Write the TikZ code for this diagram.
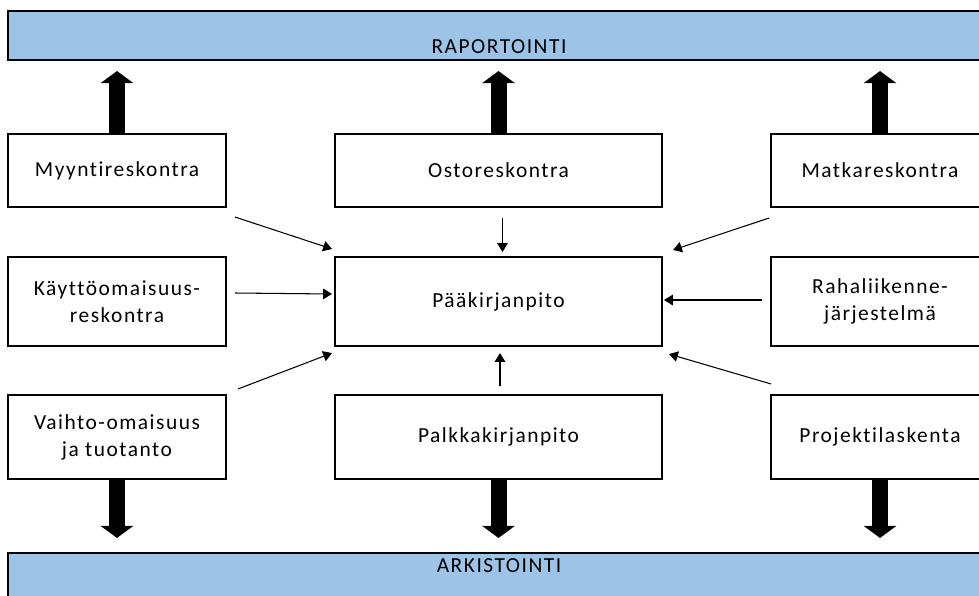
\documentclass[tikz,border=0pt]{standalone}
\usepackage{fontspec}
\setmainfont{Carlito}[LetterSpace=7, Ligatures=NoCommon]
\usetikzlibrary{arrows.meta}
\definecolor{barblue}{RGB}{157,195,230}

\begin{document}
\begin{tikzpicture}[x=0.02cm, y=-0.02cm,
box/.style={draw, line width=1.2pt, fill=white, align=center, inner sep=2pt, font=\fontsize{12.2}{15.3}\selectfont},
bar/.style={draw, line width=1.2pt, fill=barblue, minimum width=19.64cm, inner sep=0pt, font=\fontsize{12.2}{15.3}\selectfont},
bigarrow/.style={line width=0.32cm, -{Triangle[width=0.64cm,length=0.24cm]}},
feed/.style={line width=0.6pt, -{Triangle[width=6pt,length=5pt]}}]
\clip (0,0) rectangle (979,595);
% the two bars
\node[bar, text height=0.86cm, text depth=0.12cm] (raport) at (499,35.5) {RAPORTOINTI};
\node[bar, text height=0.38cm, text depth=0.56cm] (arkisto) at (499,576.5) {ARKISTOINTI};
% top row
\node[box, minimum width=4.36cm, minimum height=1.46cm] (myynti) at (117,170.5) {Myyntireskontra};
\node[box, minimum width=6.54cm, minimum height=1.46cm] (osto) at (498.5,170.5) {Ostoreskontra};
\node[box, minimum width=4.36cm, minimum height=1.46cm] (matka) at (880,170.5) {Matkareskontra};
% middle row
\node[box, minimum width=4.36cm, minimum height=1.78cm] (kaytto) at (117,301.5) {Käyttöomaisuus-\\reskontra};
\node[box, minimum width=6.54cm, minimum height=1.78cm] (paa) at (498.5,301.5) {Pääkirjanpito};
\node[box, minimum width=4.36cm, minimum height=1.78cm] (raha) at (880,301.5) {Rahaliikenne-\\järjestelmä};
% bottom row
\node[box, minimum width=4.36cm, minimum height=1.68cm] (vaihto) at (117,437) {Vaihto-omaisuus\\ja tuotanto};
\node[box, minimum width=6.54cm, minimum height=1.68cm] (palkka) at (498.5,437) {Palkkakirjanpito};
\node[box, minimum width=4.36cm, minimum height=1.68cm] (projekti) at (880,437) {Projektilaskenta};
% fat arrows to the bars
\foreach \b in {myynti,osto,matka}
    \draw[bigarrow, shorten >=0.2cm] (\b.north) -- (\b.north |- raport.south);
\foreach \b in {vaihto,palkka,projekti}
    \draw[bigarrow, shorten >=0.28cm] (\b.south) -- (\b.south |- arkisto.north);
% feeds into the general ledger
\foreach \s/\sa/\sx/\sy/\ea/\ex/\ey in {
    myynti/south east/8/9/north west/-2/-7,
    osto/south/4/10/north/4/-4,
    matka/south west/-1/10/north east/10/-6,
    kaytto/east/8/-8.5/west/-2/-7.5,
    raha/west/-8/-1.5/east/1/-1.5,
    vaihto/north east/11/-5/south west/-2/6,
    palkka/north/1.5/-8/south/1.5/6,
    projekti/north west/1/-10/south east/6/7}
    \draw[feed] ([shift={(\sx,\sy)}]\s.\sa) -- ([shift={(\ex,\ey)}]paa.\ea);
\end{tikzpicture}
\end{document}
